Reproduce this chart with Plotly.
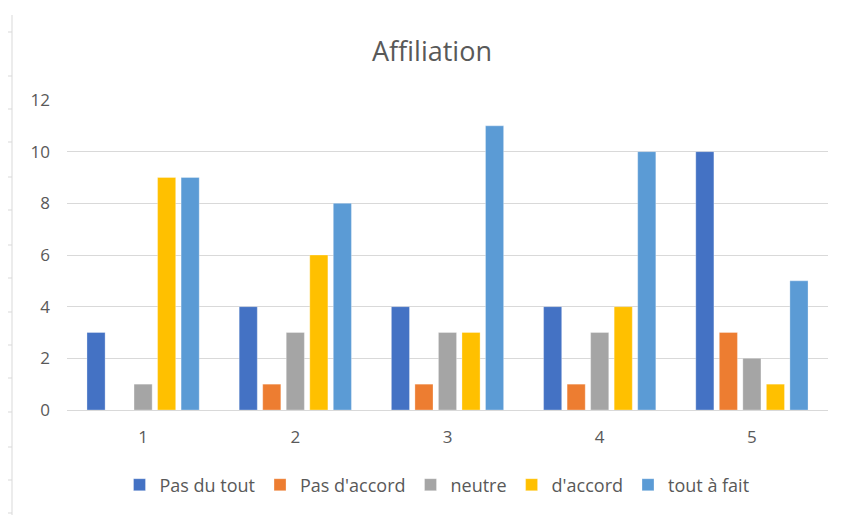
import plotly.graph_objects as go

categories = ["1", "2", "3", "4", "5"]
series_names = ["Pas du tout", "Pas d'accord", "neutre", "d'accord", "tout à fait"]
pas_du_tout = [3, 4, 4, 4, 10]
pas_accord = [0, 1, 1, 1, 3]
neutre = [1, 3, 3, 3, 2]
accord = [9, 6, 3, 4, 1]
tout_a_fait = [9, 8, 11, 10, 5]
colors = ["#4472C4", "#ED7D31", "#A5A5A5", "#FFC000", "#5B9BD5"]
y_ticks = [0, 2, 4, 6, 8, 10, 12]

W, H = 848, 515
L, R, T, B = 67, 20, 100, 105
pw, ph = W - L - R, H - T - B

fig = go.Figure()
for name, vals, col in zip(series_names, [pas_du_tout, pas_accord, neutre, accord, tout_a_fait], colors):
    fig.add_trace(go.Bar(x=categories, y=vals, name=name, marker_color=col,
                         marker_line=dict(color="rgba(255,255,255,0.5)", width=0.6)))

def px2x(px):
    return (px - L) / pw

def py2y(py):
    return (H - B - py) / ph

shapes = [dict(type="line", xref="paper", yref="paper", x0=px2x(12), x1=px2x(12),
               y0=py2y(15), y1=py2y(515), line=dict(color="#d9d9d9", width=1))]
for py in [32, 76, 109, 142, 177, 210, 245, 278, 312, 345, 378, 412, 447, 480, 513]:
    shapes.append(dict(type="line", xref="paper", yref="paper", x0=px2x(8), x1=px2x(12),
                       y0=py2y(py), y1=py2y(py), line=dict(color="#d9d9d9", width=1)))

fig.update_layout(
    width=W, height=H,
    margin=dict(l=L, r=R, t=T, b=B),
    paper_bgcolor="white", plot_bgcolor="white",
    font=dict(family="Open Sans, sans-serif", color="#595959", size=17),
    title=dict(text="Affiliation", x=432 / W, xanchor="center", y=1 - 52 / H, yanchor="middle",
               font=dict(size=27, color="#595959")),
    barmode="group", bargap=0.227, bargroupgap=0.23,
    showlegend=True,
    legend=dict(orientation="h", x=px2x(437), xanchor="center", y=py2y(485), yanchor="middle",
                font=dict(size=18, color="#595959"), itemwidth=30, traceorder="normal"),
    shapes=shapes,
)
fig.update_xaxes(showgrid=False, showline=True, linecolor="#d9d9d9", linewidth=1,
                 ticks="", ticklabelstandoff=12, tickfont=dict(size=17, color="#595959"))
fig.update_yaxes(range=[0, 12], tickvals=y_ticks, showgrid=True, gridcolor="#d9d9d9", gridwidth=1,
                 zeroline=False, showline=False, ticks="", ticklabelstandoff=16,
                 tickfont=dict(size=17, color="#595959"))

fig.write_html("out.html", config={"displayModeBar": False},
               post_script="document.body.style.margin='0';")
